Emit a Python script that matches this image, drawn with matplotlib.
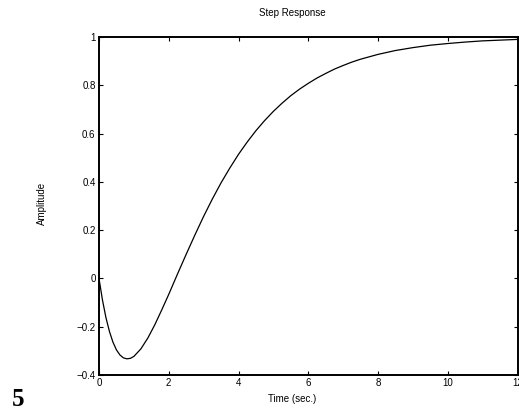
import matplotlib
matplotlib.use("Agg")
import matplotlib.pyplot as plt

# step response samples
t = [0, 0.1, 0.2, 0.3, 0.4, 0.5, 0.6, 0.7, 0.8, 0.9, 1.0, 1.2, 1.4, 1.6,
     1.8, 2.0, 2.25, 2.5, 2.75, 3.0, 3.25, 3.5, 3.75, 4.0, 4.25, 4.5, 4.75,
     5.0, 5.25, 5.5, 5.75, 6.0, 6.25, 6.5, 6.75, 7.0, 7.25, 7.5, 7.75,
     8.0, 8.5, 9.0, 9.5, 10.0, 10.5, 11.0, 11.5, 12.0]
amp = [0, -0.090, -0.163, -0.220, -0.264, -0.296, -0.317, -0.329, -0.333,
       -0.331, -0.323, -0.292, -0.247, -0.192, -0.130, -0.066, 0.018,
       0.100, 0.180, 0.257, 0.329, 0.396, 0.457, 0.514, 0.565, 0.612,
       0.654, 0.692, 0.726, 0.757, 0.784, 0.808, 0.830, 0.849, 0.867,
       0.882, 0.896, 0.908, 0.918, 0.928, 0.944, 0.956, 0.966, 0.973,
       0.979, 0.984, 0.987, 0.990]

xticks = [0, 2, 4, 6, 8, 10, 12]
yticks = [-0.4, -0.2, 0, 0.2, 0.4, 0.6, 0.8, 1]
ylabels = ['\u22120.4', '\u22120.2', '0', '0.2', '0.4', '0.6', '0.8', '1']

plt.rcParams['font.family'] = ['Liberation Sans', 'DejaVu Sans']

fig = plt.figure(figsize=(5.19, 4.17), dpi=100)
ax = fig.add_axes([99 / 519, 1 - 375 / 417, 418.5 / 519, 338 / 417])
ax.plot(t, amp, color='black', linewidth=0.9)

ax.set_xlim(0, 12)
ax.set_ylim(-0.4, 1)
ax.set_xticks(xticks)
ax.set_xticklabels([str(v) for v in xticks])
ax.set_yticks(yticks)
ax.set_yticklabels(ylabels)
ax.tick_params(direction='in', length=3, width=0.8, top=True, right=True,
               labelsize=7, pad=2.5, colors='black')
for s in ax.spines.values():
    s.set_linewidth(1.4)

fig.text(292 / 519, 1 - 13 / 417, 'Step Response', fontsize=7,
         ha='center', va='center')
fig.text(292 / 519, 1 - 399 / 417, 'Time (sec.)', fontsize=7,
         ha='center', va='center')
fig.text(42 / 519, 1 - 203 / 417, 'Amplitude', fontsize=7, rotation=90,
         ha='center', va='center')
fig.text(18 / 519, 1 - 399 / 417, '5', fontsize=18, fontweight='bold',
         family=['Liberation Serif', 'DejaVu Serif'], ha='center', va='center')

fig.savefig('out.png', dpi=100)
